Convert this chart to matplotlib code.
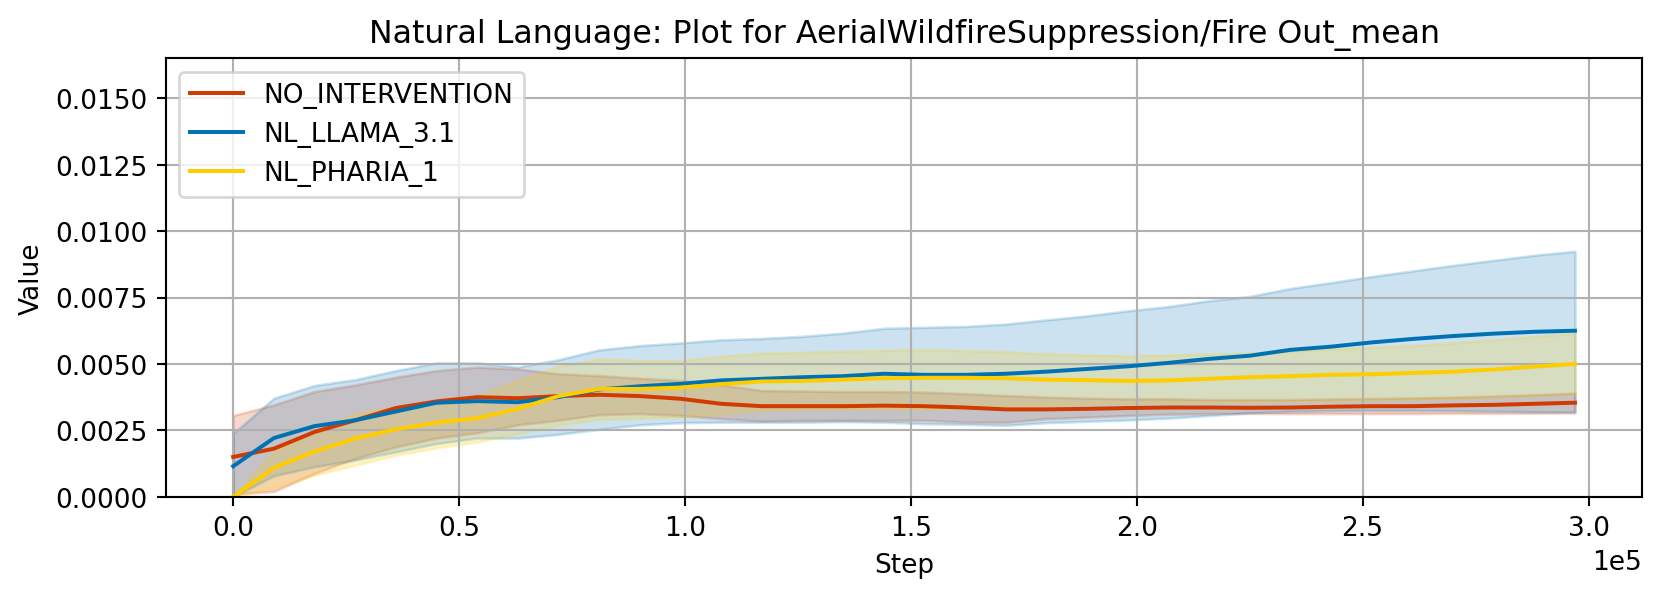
import numpy as np
import matplotlib
matplotlib.use("Agg")
import matplotlib.pyplot as plt

# steps (evaluation every 9000 steps)
steps = np.arange(0, 297001, 9000)

# NO_INTERVENTION
no_int_mean = [0.00150, 0.00181, 0.00244, 0.00288, 0.00334, 0.00359, 0.00375, 0.00371, 0.00379, 0.00384,
               0.00379, 0.00369, 0.00350, 0.00341, 0.00341, 0.00341, 0.00343, 0.00341, 0.00336, 0.00329,
               0.00329, 0.00331, 0.00334, 0.00336, 0.00336, 0.00335, 0.00336, 0.00339, 0.00341, 0.00341,
               0.00344, 0.00346, 0.00350, 0.00354]
no_int_upper = [0.00306, 0.00346, 0.00396, 0.00421, 0.00450, 0.00475, 0.00488, 0.00481, 0.00463, 0.00456,
                0.00446, 0.00438, 0.00421, 0.00400, 0.00398, 0.00396, 0.00396, 0.00394, 0.00388, 0.00381,
                0.00375, 0.00371, 0.00369, 0.00369, 0.00366, 0.00366, 0.00366, 0.00368, 0.00370, 0.00372,
                0.00375, 0.00379, 0.00384, 0.00390]
no_int_lower = [0.00010, 0.00020, 0.00088, 0.00144, 0.00188, 0.00221, 0.00241, 0.00271, 0.00288, 0.00309,
                0.00313, 0.00306, 0.00294, 0.00285, 0.00288, 0.00288, 0.00288, 0.00288, 0.00281, 0.00280,
                0.00294, 0.00300, 0.00306, 0.00311, 0.00313, 0.00314, 0.00313, 0.00313, 0.00313, 0.00313,
                0.00314, 0.00314, 0.00315, 0.00316]

# NL_LLAMA_3.1
llama_mean = [0.00115, 0.00221, 0.00266, 0.00288, 0.00321, 0.00354, 0.00360, 0.00356, 0.00375, 0.00404,
              0.00416, 0.00425, 0.00438, 0.00444, 0.00450, 0.00454, 0.00463, 0.00459, 0.00459, 0.00463,
              0.00471, 0.00481, 0.00491, 0.00504, 0.00519, 0.00531, 0.00553, 0.00565, 0.00581, 0.00594,
              0.00605, 0.00614, 0.00621, 0.00625]
llama_upper = [0.00238, 0.00371, 0.00419, 0.00441, 0.00475, 0.00504, 0.00504, 0.00488, 0.00516, 0.00553,
               0.00569, 0.00579, 0.00591, 0.00596, 0.00604, 0.00616, 0.00634, 0.00638, 0.00641, 0.00650,
               0.00666, 0.00681, 0.00700, 0.00716, 0.00738, 0.00754, 0.00784, 0.00806, 0.00829, 0.00850,
               0.00871, 0.00890, 0.00909, 0.00924]
llama_lower = [0.00000, 0.00079, 0.00113, 0.00138, 0.00169, 0.00200, 0.00221, 0.00221, 0.00235, 0.00254,
               0.00271, 0.00279, 0.00281, 0.00281, 0.00281, 0.00283, 0.00281, 0.00275, 0.00273, 0.00269,
               0.00279, 0.00284, 0.00289, 0.00296, 0.00306, 0.00316, 0.00321, 0.00324, 0.00325, 0.00325,
               0.00324, 0.00322, 0.00320, 0.00319]

# NL_PHARIA_1
pharia_mean = [0.00000, 0.00109, 0.00171, 0.00219, 0.00254, 0.00279, 0.00296, 0.00331, 0.00379, 0.00406,
               0.00406, 0.00411, 0.00424, 0.00434, 0.00436, 0.00441, 0.00446, 0.00448, 0.00448, 0.00446,
               0.00441, 0.00439, 0.00436, 0.00438, 0.00444, 0.00450, 0.00454, 0.00459, 0.00461, 0.00466,
               0.00471, 0.00479, 0.00490, 0.00500]
pharia_upper = [0.00000, 0.00169, 0.00250, 0.00313, 0.00338, 0.00363, 0.00379, 0.00438, 0.00491, 0.00519,
                0.00513, 0.00513, 0.00529, 0.00541, 0.00544, 0.00548, 0.00551, 0.00554, 0.00550, 0.00546,
                0.00538, 0.00534, 0.00531, 0.00534, 0.00538, 0.00541, 0.00548, 0.00556, 0.00563, 0.00569,
                0.00579, 0.00591, 0.00604, 0.00615]
pharia_lower = [0.00000, 0.00034, 0.00081, 0.00119, 0.00156, 0.00184, 0.00206, 0.00238, 0.00269, 0.00291,
                0.00296, 0.00300, 0.00313, 0.00325, 0.00330, 0.00331, 0.00331, 0.00330, 0.00333, 0.00338,
                0.00345, 0.00350, 0.00353, 0.00355, 0.00356, 0.00358, 0.00360, 0.00362, 0.00364, 0.00366,
                0.00370, 0.00374, 0.00380, 0.00386]

series = [
    ("NO_INTERVENTION", no_int_mean, no_int_lower, no_int_upper, "#d23a00"),
    ("NL_LLAMA_3.1", llama_mean, llama_lower, llama_upper, "#0072b4"),
    ("NL_PHARIA_1", pharia_mean, pharia_lower, pharia_upper, "#ffcc00"),
]

fig, ax = plt.subplots(figsize=(8.742, 3.147), dpi=190)

for name, mean, lo, hi, col in series:
    ax.plot(steps, mean, color=col, label=name, linewidth=1.5)
    ax.fill_between(steps, lo, hi, color=col, alpha=0.2)

ax.set_ylim(0, 0.0165)
ax.set_title("Natural Language: Plot for AerialWildfireSuppression/Fire Out_mean")
ax.set_xlabel("Step")
ax.set_ylabel("Value")
ax.ticklabel_format(axis="x", style="sci", scilimits=(0, 0))
ax.grid(True)
ax.legend(loc="upper left")

fig.subplots_adjust(left=0.1, right=0.9886, top=0.9008, bottom=0.1676)
fig.savefig("out.png", dpi=190)
